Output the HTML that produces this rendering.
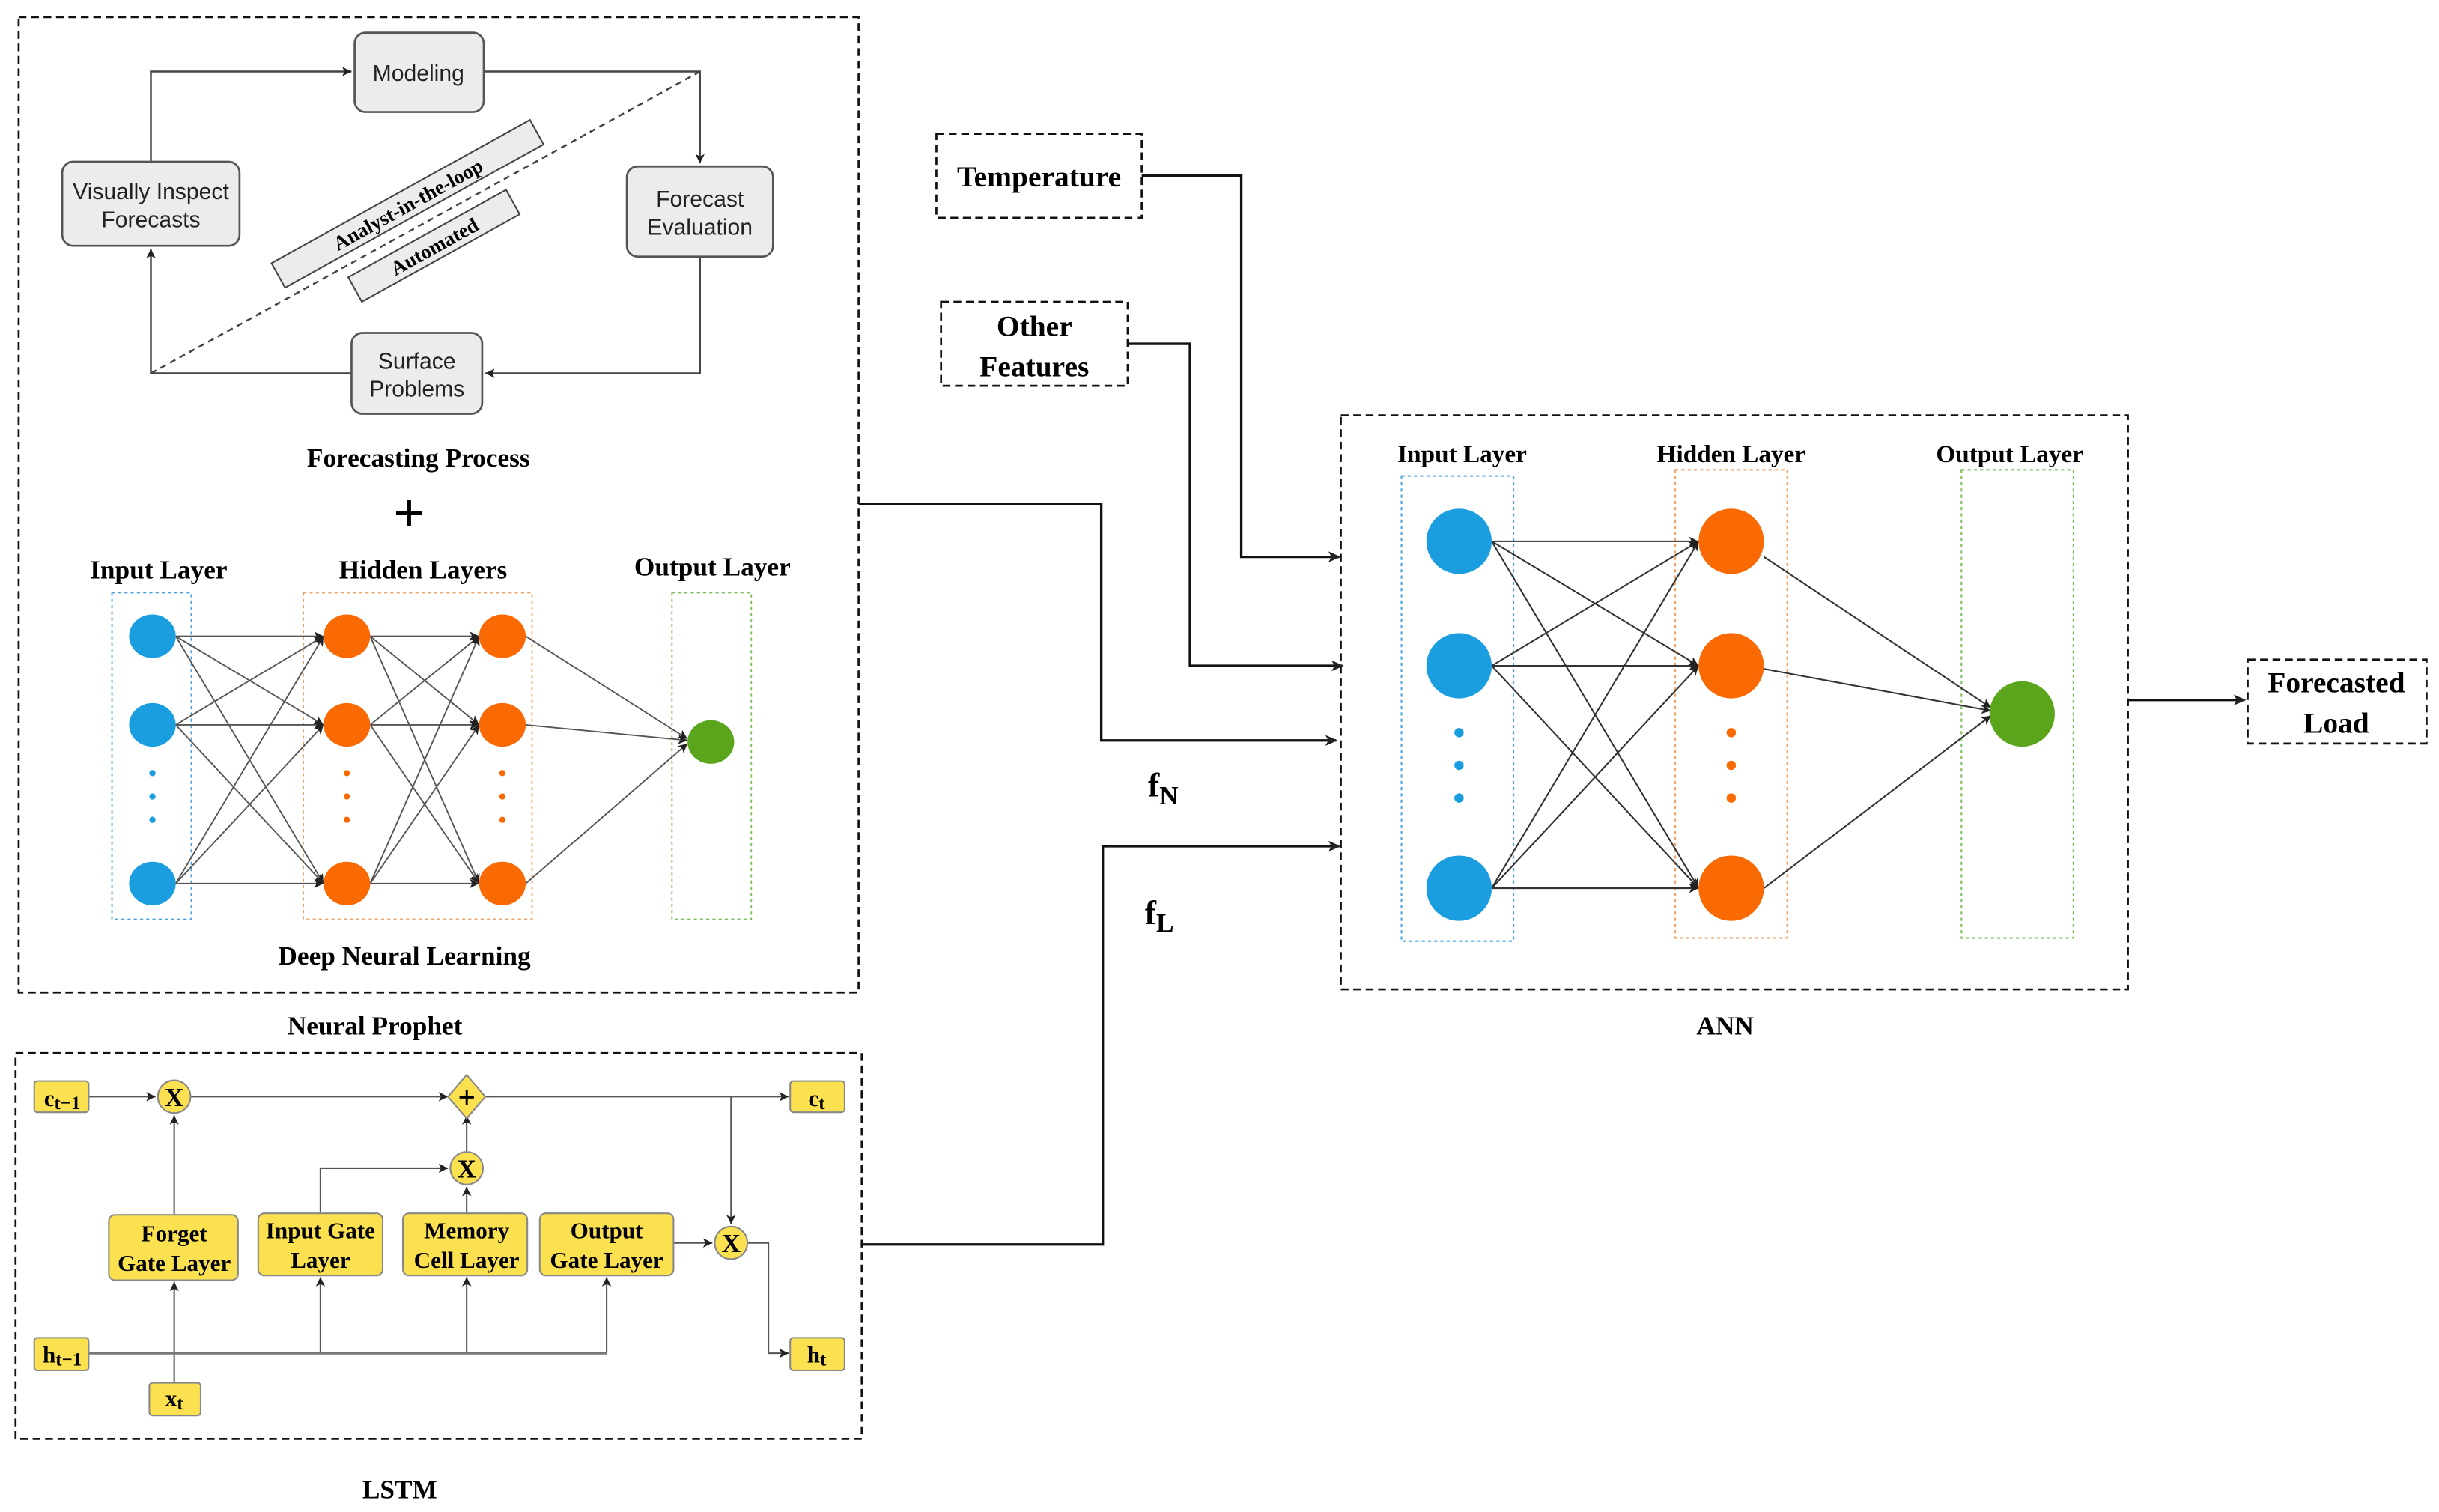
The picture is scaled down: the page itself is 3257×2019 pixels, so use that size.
<!DOCTYPE html>
<html><head><meta charset="utf-8"><style>
html,body{margin:0;padding:0;background:#fff;}
svg{display:block;}
.sf{font-family:"Liberation Serif",serif;font-weight:bold;fill:#000;}
.ss{font-family:"Liberation Sans",sans-serif;fill:#222;}
</style></head><body>
<svg width="3257" height="2019" viewBox="0 0 1568 972" preserveAspectRatio="none" xmlns="http://www.w3.org/2000/svg">
<defs>
<marker id="a" markerWidth="8" markerHeight="8" refX="7" refY="4" orient="auto" markerUnits="userSpaceOnUse"><path d="M0,0.5 L8,4 L0,7.5 L2,4z" fill="#222"/></marker>
<marker id="b" markerWidth="6" markerHeight="6" refX="6" refY="3" orient="auto" markerUnits="userSpaceOnUse"><path d="M0,0 L6,3 L0,6 L1.5,3z" fill="#222"/></marker>
</defs>
<rect width="1568" height="972" fill="#fff"/>

<!-- Neural Prophet box -->
<rect x="12" y="11" width="540" height="627" fill="none" stroke="#111" stroke-width="1.3" stroke-dasharray="5,3"/>
<!-- forecasting process -->
<g stroke="#444" stroke-width="1.2" fill="none">
<path d="M97,104 V46 H226" marker-end="url(#b)"/>
<path d="M311,46 H450 V105" marker-end="url(#b)"/>
<path d="M450,165 V240 H312" marker-end="url(#b)"/>
<path d="M226,240 H97 V160" marker-end="url(#b)"/>
<path d="M97,240 L450,46" stroke-dasharray="4,3"/>
</g>
<g fill="#ececec" stroke="#555" stroke-width="1.3">
<rect x="228" y="21" width="83" height="51" rx="7"/>
<rect x="40" y="104" width="114" height="54" rx="7"/>
<rect x="403" y="107" width="94" height="58" rx="7"/>
<rect x="226" y="214" width="84" height="52" rx="7"/>
</g>
<g class="ss" font-size="14.5" text-anchor="middle">
<text x="269" y="52">Modeling</text>
<text x="97" y="128">Visually Inspect</text><text x="97" y="146">Forecasts</text>
<text x="450" y="133">Forecast</text><text x="450" y="151">Evaluation</text>
<text x="268" y="237">Surface</text><text x="268" y="255">Problems</text>
</g>
<g transform="translate(262,131) rotate(-29)">
<rect x="-95" y="-9" width="190" height="18" fill="#ececec" stroke="#444" stroke-width="1"/>
<text class="sf" x="0" y="5" font-size="13" text-anchor="middle">Analyst-in-the-loop</text>
</g>
<g transform="translate(279,158) rotate(-29)">
<rect x="-58" y="-9" width="116" height="18" fill="#ececec" stroke="#444" stroke-width="1"/>
<text class="sf" x="0" y="5" font-size="13" text-anchor="middle">Automated</text>
</g>
<text class="sf" x="269" y="300" font-size="17" text-anchor="middle">Forecasting Process</text>
<text class="sf" x="263" y="342" font-size="36" text-anchor="middle">+</text>
<g class="sf" font-size="17" text-anchor="middle">
<text x="102" y="372">Input Layer</text>
<text x="272" y="372">Hidden Layers</text>
<text x="458" y="370">Output Layer</text>
</g>
<rect x="72" y="381" width="51" height="210" fill="none" stroke="#4aa3df" stroke-dasharray="2,2" stroke-width="0.9"/>
<rect x="195" y="381" width="147" height="210" fill="none" stroke="#f0a060" stroke-dasharray="2,2" stroke-width="0.9"/>
<rect x="432" y="381" width="51" height="210" fill="none" stroke="#7cbf5a" stroke-dasharray="2,2" stroke-width="0.9"/>
<g stroke="#555" stroke-width="0.9" marker-end="url(#b)">
<line x1="113" y1="409" x2="208" y2="409"/><line x1="113" y1="409" x2="208" y2="466"/><line x1="113" y1="409" x2="208" y2="568"/>
<line x1="113" y1="466" x2="208" y2="409"/><line x1="113" y1="466" x2="208" y2="466"/><line x1="113" y1="466" x2="208" y2="568"/>
<line x1="113" y1="568" x2="208" y2="409"/><line x1="113" y1="568" x2="208" y2="466"/><line x1="113" y1="568" x2="208" y2="568"/>
<line x1="238" y1="409" x2="308" y2="409"/><line x1="238" y1="409" x2="308" y2="466"/><line x1="238" y1="409" x2="308" y2="568"/>
<line x1="238" y1="466" x2="308" y2="409"/><line x1="238" y1="466" x2="308" y2="466"/><line x1="238" y1="466" x2="308" y2="568"/>
<line x1="238" y1="568" x2="308" y2="409"/><line x1="238" y1="568" x2="308" y2="466"/><line x1="238" y1="568" x2="308" y2="568"/>
<line x1="338" y1="409" x2="442" y2="475"/><line x1="338" y1="466" x2="442" y2="476"/><line x1="338" y1="568" x2="442" y2="478"/>
</g>
<g fill="#1a9ee0"><ellipse cx="98" cy="409" rx="15" ry="14"/><ellipse cx="98" cy="466" rx="15" ry="14"/><ellipse cx="98" cy="568" rx="15" ry="14"/>
<circle cx="98" cy="497" r="2"/><circle cx="98" cy="512" r="2"/><circle cx="98" cy="527" r="2"/></g>
<g fill="#f96a05"><ellipse cx="223" cy="409" rx="15" ry="14"/><ellipse cx="223" cy="466" rx="15" ry="14"/><ellipse cx="223" cy="568" rx="15" ry="14"/>
<ellipse cx="323" cy="409" rx="15" ry="14"/><ellipse cx="323" cy="466" rx="15" ry="14"/><ellipse cx="323" cy="568" rx="15" ry="14"/>
<circle cx="223" cy="497" r="2"/><circle cx="223" cy="512" r="2"/><circle cx="223" cy="527" r="2"/>
<circle cx="323" cy="497" r="2"/><circle cx="323" cy="512" r="2"/><circle cx="323" cy="527" r="2"/></g>
<ellipse cx="457" cy="477" rx="15" ry="14" fill="#5aa51c"/>
<text class="sf" x="260" y="620" font-size="17" text-anchor="middle">Deep Neural Learning</text>
<text class="sf" x="241" y="665" font-size="17" text-anchor="middle">Neural Prophet</text>

<!-- LSTM -->
<rect x="10" y="677" width="544" height="248" fill="none" stroke="#111" stroke-width="1.3" stroke-dasharray="5,3"/>
<g stroke="#555" stroke-width="1" fill="none" marker-end="url(#b)">
<path d="M57,705 H100"/><path d="M123,705 H288"/><path d="M311,705 H507"/>
<path d="M470,705 V787"/>
<path d="M112,781 V717"/><path d="M112,889 V824"/>
<path d="M206,780 V751 H288"/><path d="M300,780 V763"/><path d="M300,740 V717"/>
<path d="M206,870 V821"/><path d="M300,870 V821"/><path d="M390,870 V821"/>
<path d="M433,799 H458"/><path d="M481,799 H494 V870 H507"/>
</g>
<line x1="57" y1="870" x2="390" y2="870" stroke="#777" stroke-width="1.5"/>
<g fill="#fbe14f" stroke="#888" stroke-width="1">
<rect x="22" y="695" width="35" height="20" rx="2"/><rect x="508" y="695" width="35" height="20" rx="2"/>
<rect x="22" y="860" width="35" height="21" rx="2"/><rect x="508" y="860" width="35" height="21" rx="2"/>
<rect x="96" y="889" width="33" height="21" rx="2"/>
<rect x="70" y="781" width="83" height="42" rx="4"/><rect x="166" y="780" width="80" height="40" rx="4"/>
<rect x="259" y="780" width="80" height="40" rx="4"/><rect x="347" y="780" width="86" height="40" rx="4"/>
<circle cx="112" cy="705" r="10.5"/><circle cx="300" cy="751" r="10.5"/><circle cx="470" cy="799" r="10.5"/>
<path d="M300,691 L312,705 L300,719 L288,705z"/>
</g>
<g class="sf" font-size="15" text-anchor="middle">
<text x="112" y="798">Forget</text><text x="112" y="817">Gate Layer</text>
<text x="206" y="796">Input Gate</text><text x="206" y="815">Layer</text>
<text x="300" y="796">Memory</text><text x="300" y="815">Cell Layer</text>
<text x="390" y="796">Output</text><text x="390" y="815">Gate Layer</text>
<text x="112" y="711" font-size="17">X</text><text x="300" y="757" font-size="17">X</text><text x="470" y="805" font-size="17">X</text>
<text x="300" y="712" font-size="20">+</text>
<text x="40" y="711">c<tspan font-size="12" dy="2">t−1</tspan></text>
<text x="525" y="711">c<tspan font-size="12" dy="2">t</tspan></text>
<text x="40" y="876">h<tspan font-size="12" dy="2">t−1</tspan></text>
<text x="525" y="876">h<tspan font-size="12" dy="2">t</tspan></text>
<text x="112" y="904">x<tspan font-size="12" dy="2">t</tspan></text>
</g>
<text class="sf" x="257" y="963" font-size="17" text-anchor="middle">LSTM</text>

<!-- right side -->
<g fill="none" stroke="#111" stroke-width="1.3" stroke-dasharray="5,3">
<rect x="602" y="86" width="132" height="54"/>
<rect x="605" y="194" width="120" height="54"/>
<rect x="1445" y="424" width="115" height="54"/>
<rect x="862" y="267" width="506" height="369"/>
</g>
<g class="sf" font-size="19" text-anchor="middle">
<text x="668" y="120">Temperature</text>
<text x="665" y="216">Other</text><text x="665" y="242">Features</text>
<text x="1502" y="445">Forecasted</text><text x="1502" y="471">Load</text>
</g>
<g stroke="#111" stroke-width="1.6" fill="none" marker-end="url(#a)">
<path d="M734,113 H798 V358 H861"/>
<path d="M725,221 H765 V428 H863"/>
<path d="M552,324 H708 V476 H859"/>
<path d="M554,800 H709 V544 H861"/>
<path d="M1368,450 H1443"/>
</g>
<text class="sf" x="738" y="512" font-size="22">f<tspan font-size="17" dy="5">N</tspan></text>
<text class="sf" x="736" y="594" font-size="22">f<tspan font-size="17" dy="5">L</tspan></text>
<text class="sf" x="1109" y="665" font-size="17" text-anchor="middle">ANN</text>

<g class="sf" font-size="16" text-anchor="middle">
<text x="940" y="297">Input Layer</text><text x="1113" y="297">Hidden Layer</text><text x="1292" y="297">Output Layer</text>
</g>
<rect x="901" y="306" width="72" height="299" fill="none" stroke="#4aa3df" stroke-dasharray="2,2"/>
<rect x="1077" y="302" width="72" height="301" fill="none" stroke="#f0a060" stroke-dasharray="2,2"/>
<rect x="1261" y="302" width="72" height="301" fill="none" stroke="#7cbf5a" stroke-dasharray="2,2"/>
<g stroke="#333" stroke-width="1" marker-end="url(#b)">
<line x1="959" y1="348" x2="1092" y2="348"/><line x1="959" y1="348" x2="1092" y2="428"/><line x1="959" y1="348" x2="1092" y2="571"/>
<line x1="959" y1="428" x2="1092" y2="348"/><line x1="959" y1="428" x2="1092" y2="428"/><line x1="959" y1="428" x2="1092" y2="571"/>
<line x1="959" y1="571" x2="1092" y2="348"/><line x1="959" y1="571" x2="1092" y2="428"/><line x1="959" y1="571" x2="1092" y2="571"/>
<line x1="1134" y1="358" x2="1280" y2="455"/><line x1="1134" y1="430" x2="1280" y2="457"/><line x1="1134" y1="571" x2="1280" y2="460"/>
</g>
<g fill="#1a9ee0"><ellipse cx="938" cy="348" rx="21" ry="21"/><ellipse cx="938" cy="428" rx="21" ry="21"/><ellipse cx="938" cy="571" rx="21" ry="21"/>
<circle cx="938" cy="471" r="3"/><circle cx="938" cy="492" r="3"/><circle cx="938" cy="513" r="3"/></g>
<g fill="#f96a05"><ellipse cx="1113" cy="348" rx="21" ry="21"/><ellipse cx="1113" cy="428" rx="21" ry="21"/><ellipse cx="1113" cy="571" rx="21" ry="21"/>
<circle cx="1113" cy="471" r="3"/><circle cx="1113" cy="492" r="3"/><circle cx="1113" cy="513" r="3"/></g>
<ellipse cx="1300" cy="459" rx="21" ry="21" fill="#5aa51c"/>
</svg>
</body></html>
